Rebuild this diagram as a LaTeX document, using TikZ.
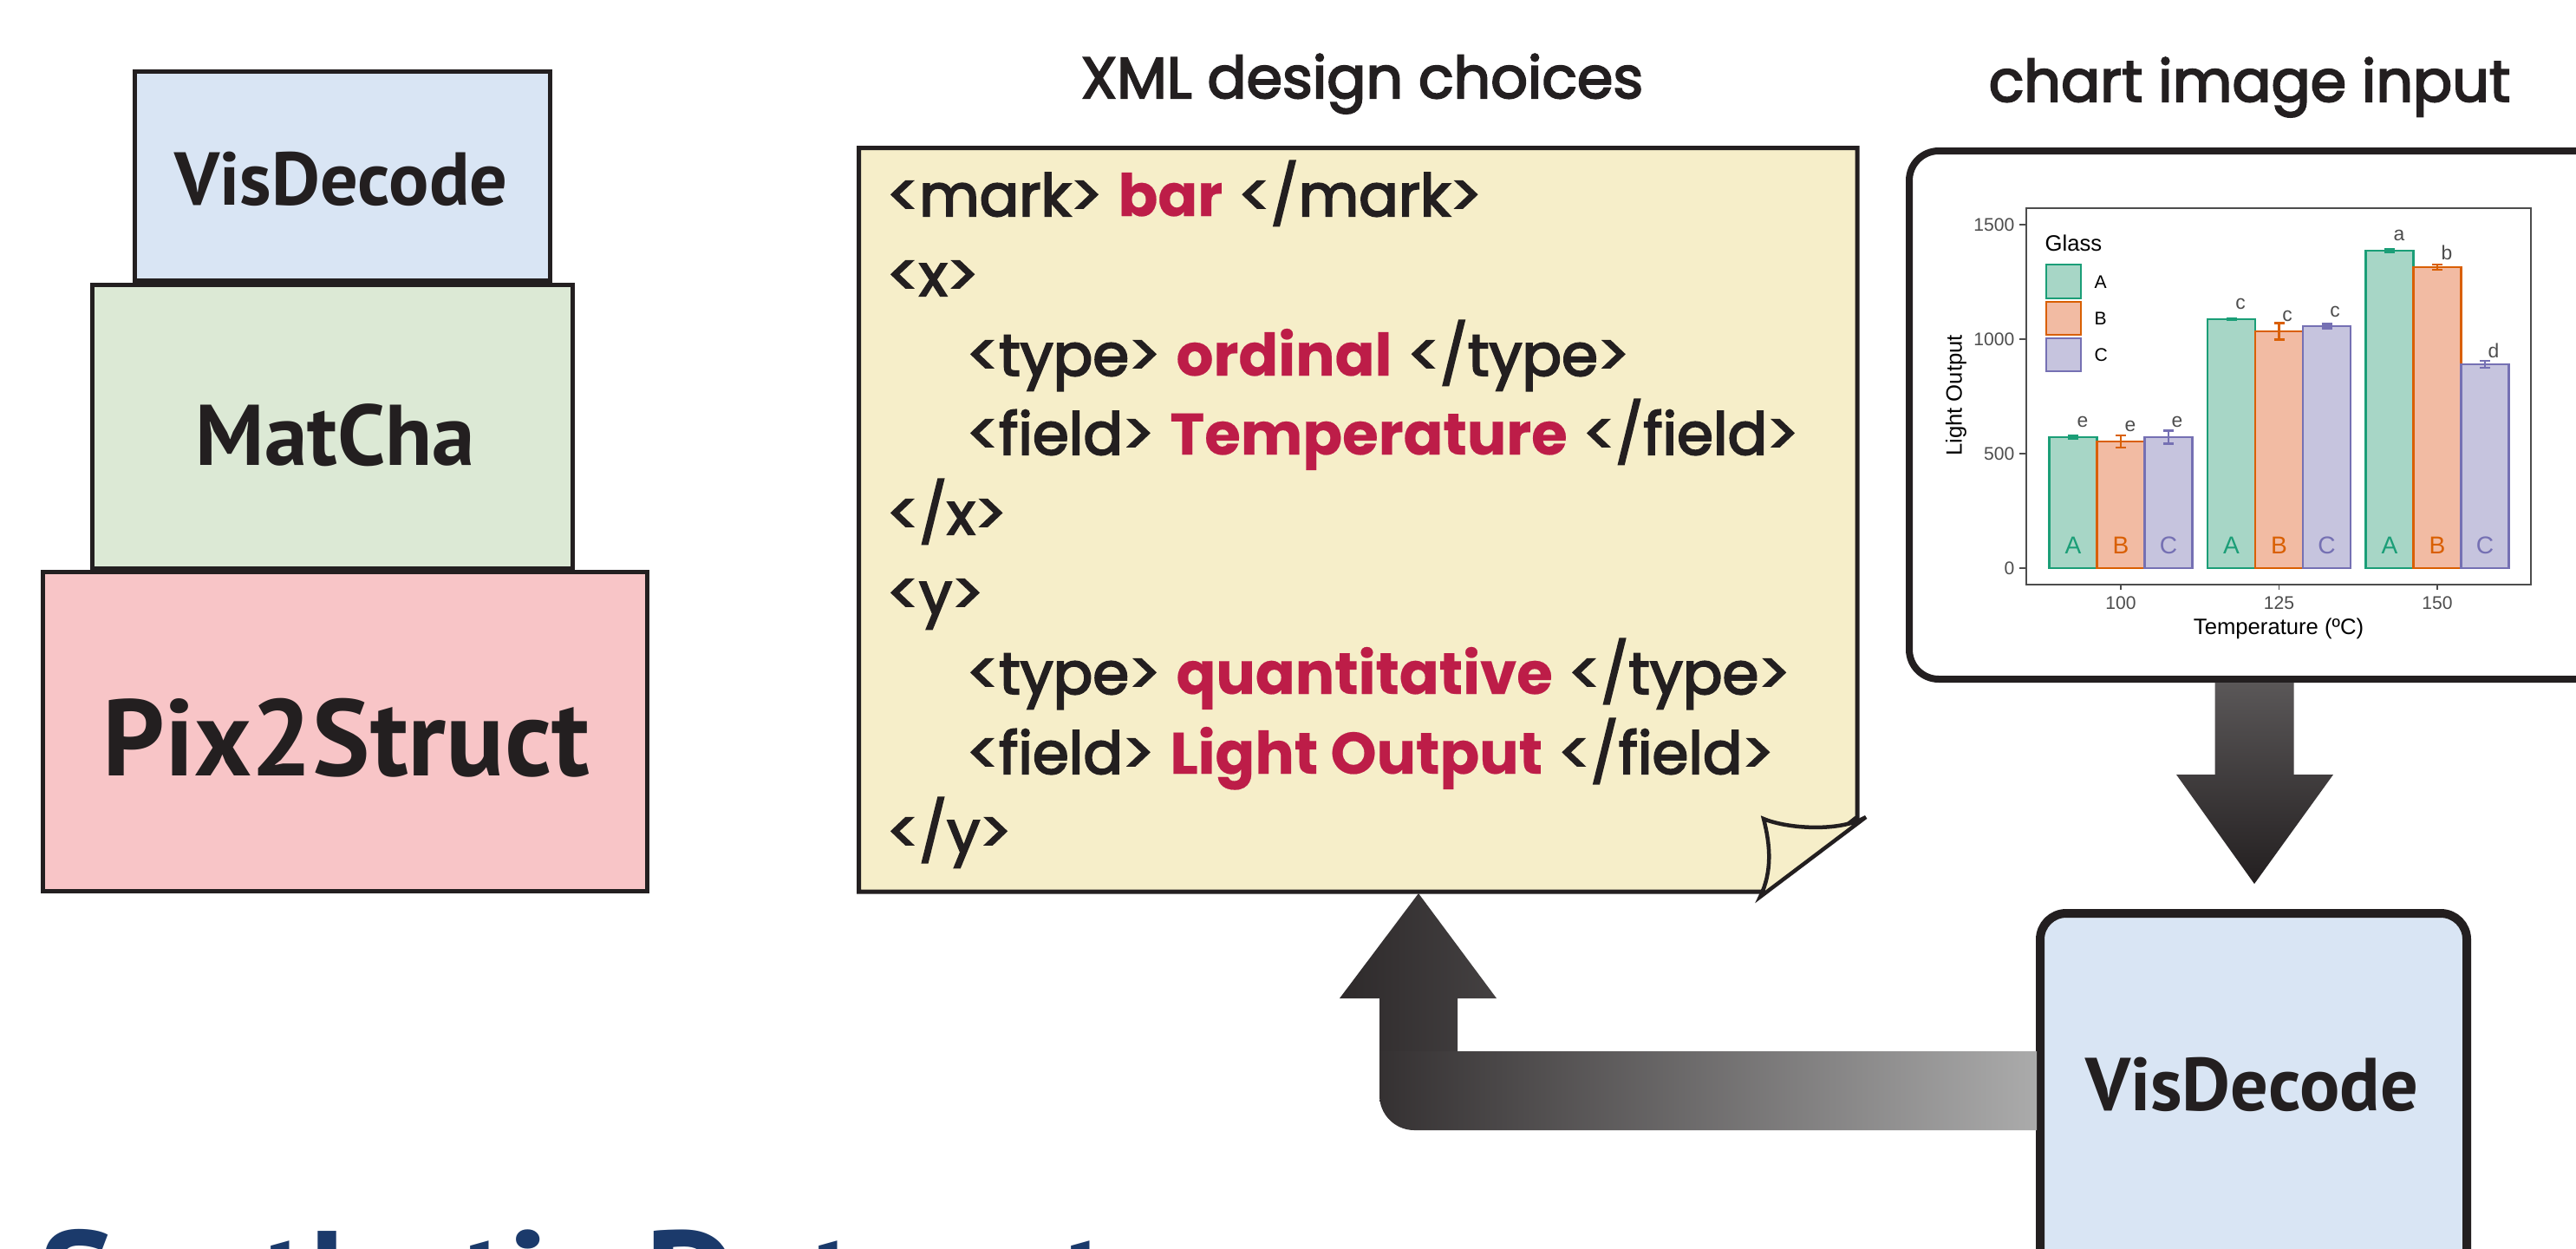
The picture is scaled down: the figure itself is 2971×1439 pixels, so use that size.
\documentclass[tikz,border=0pt]{standalone}
\usepackage{fontspec}
\usetikzlibrary{calc}
\setmainfont{Liberation Sans}
\newfontfamily\popfont{Poppins}[FakeBold=3, BoldFeatures={FakeBold=0.3}]
\newfontfamily\myriad{PT Sans}
\newfontfamily\arialf{Liberation Sans}
\definecolor{ink}{HTML}{231F20}
\definecolor{visblue}{HTML}{D9E5F4}
\definecolor{matgreen}{HTML}{DCE9D5}
\definecolor{pixpink}{HTML}{F8C5C7}
\definecolor{paper}{HTML}{F6EEC9}
\definecolor{xmlred}{HTML}{BD1D48}
\definecolor{navy}{HTML}{1B3A6B}
\definecolor{panelgray}{HTML}{4D4D4D}
\definecolor{Afill}{HTML}{A7D6C6}
\definecolor{Bfill}{HTML}{F2BBA3}
\definecolor{Cfill}{HTML}{C6C4DE}
\definecolor{Aline}{HTML}{1B9E77}
\definecolor{Bline}{HTML}{D95F02}
\definecolor{Cline}{HTML}{7570B3}
\newcommand\chartbar[4]{%
  \draw[fill=#4fill, draw=#4line, line width=0.25mm] (#1-27.5,655) rectangle (#1+27.5,#2);
  \draw[#4line, line width=0.25mm] (#1,#2-#3) -- (#1,#2+#3)
     (#1-6,#2-#3) -- (#1+6,#2-#3) (#1-6,#2+#3) -- (#1+6,#2+#3);
  \node[barlab, text=#4line] at (#1,629) {#4};
}
\begin{document}
\begin{tikzpicture}[x=0.1mm,y=-0.1mm,
  stackbox/.style={draw=ink, line width=0.5mm, inner sep=0},
  bigbold/.style={font=\myriad\bfseries, text=ink, anchor=base, inner sep=0},
  xmlline/.style={font=\popfont\fontsize{19.2pt}{21pt}\selectfont, text=ink, anchor=base west, inner sep=0},
  titletext/.style={font=\popfont\fontsize{19pt}{21pt}\selectfont, text=ink, anchor=base, inner sep=0},
  ticklab/.style={font=\arialf\fontsize{6pt}{7pt}\selectfont, text=panelgray, inner sep=0},
  axlab/.style={font=\arialf\fontsize{7.3pt}{8pt}\selectfont, text=black, inner sep=0},
  barlab/.style={font=\arialf\fontsize{8pt}{9pt}\selectfont, inner sep=0},
  sig/.style={font=\arialf\fontsize{6.5pt}{7pt}\selectfont, text=panelgray, inner sep=0},
]
\useasboundingbox (0,0) rectangle (2971,1439);
\clip (0,0) rectangle (2971,1439);

% ---------- left stack ----------
\node[stackbox, fill=pixpink, minimum width=69.7mm, minimum height=36.8mm] (pixL) at (398,843.5) {};
\node[stackbox, fill=matgreen, minimum width=55.4mm, minimum height=32.7mm] (matL) at (383.5,492) {};
\node[stackbox, fill=visblue, minimum width=47.9mm, minimum height=24.1mm] (visL) at (395,203) {};
\node[bigbold] (visLt) at (393.5,236) {\resizebox{38.4mm}{!}{VisDecode}};
\node[bigbold] (matLt) at (387,536) {\resizebox{32.2mm}{!}{MatCha}};
\node[bigbold] (pixLt) at (399.5,894) {\resizebox{56.1mm}{!}{Pix2Struct}};

% ---------- XML box ----------
\node[titletext] (xmltitle) at (1571,113) {XML design choices};
\path[draw=ink, fill=paper, line width=0.5mm, line join=miter]
  (990.5,170.5) -- (2142,170.5) -- (2142,942) -- (2032,1028) -- (990.5,1028) -- cycle;
\path[draw=ink, fill=paper, line width=0.45mm, line join=miter]
  (2152,942) -- (2030,1034)
  .. controls (2044,1005) and (2042,975) .. (2034,944)
  .. controls (2060,955) and (2120,960) .. (2152,942) -- cycle;
\node[xmlline] (l1) at (1022,249) {<mark> {\color{xmlred}\bfseries bar} </mark>};
\node[xmlline] (l2) at (1022,341) {<x>};
\node[xmlline] (l3) at (1114,433) {<type> {\color{xmlred}\bfseries ordinal} </type>};
\node[xmlline] (l4) at (1114,524) {<field> {\color{xmlred}\bfseries Temperature} </field>};
\node[xmlline] (l5) at (1022,616) {</x>};
\node[xmlline] (l6) at (1022,708) {<y>};
\node[xmlline] (l7) at (1114,800) {<type> {\color{xmlred}\bfseries quantitative} </type>};
\node[xmlline] (l8) at (1114,892) {<field> {\color{xmlred}\bfseries Light Output} </field>};
\node[xmlline] (l9) at (1022,983) {</y>};

% ---------- chart box ----------
\node[titletext] (charttitle) at (2594.5,117) {chart image input};
\node[draw=ink, fill=white, line width=0.8mm, rounded corners=3.4mm, inner sep=0,
      minimum width=83.8mm, minimum height=60.9mm] (chartbox) at (2621,478.5) {};

% plot panel
\draw[panelgray, line width=0.18mm] (2337,240) rectangle (2919,674);
\foreach \v/\yy in {1500/259,1000/391,500/523,0/655}{
  \draw[panelgray, line width=0.18mm] (2329,\yy) -- (2337,\yy);
  \node[ticklab, anchor=east] at (2324,\yy) {\v};
}
\foreach \v/\xx in {100/2446,125/2628.5,150/2811}{
  \draw[panelgray, line width=0.18mm] (\xx,674) -- (\xx,680);
  \node[ticklab] at (\xx,695.5) {\v};
}
\node[axlab, rotate=90] (ylab) at (2256,456) {Light Output};
\node[axlab] (xlab) at (2628,725) {Temperature (ºC)};

\chartbar{2391}{504}{1.5}{A}
\chartbar{2446}{509}{7}{B}
\chartbar{2501}{504}{7.5}{C}
\chartbar{2573.5}{368}{1}{A}
\chartbar{2628.5}{381.8}{9.5}{B}
\chartbar{2683.5}{375.9}{2.5}{C}
\chartbar{2756}{289.1}{1.5}{A}
\chartbar{2811}{308.1}{3}{B}
\chartbar{2866}{420}{4}{C}

\node[sig] at (2402,486) {e};
\node[sig] at (2457,491) {e};
\node[sig] at (2511,486) {e};
\node[sig] at (2584,350) {c};
\node[sig] at (2638,364) {c};
\node[sig] at (2693,359) {c};
\node[sig] at (2767,271) {a};
\node[sig] at (2822,291) {b};
\node[sig] at (2876,404) {d};

% legend
\node[axlab, anchor=west] (glass) at (2358,280) {Glass};
\draw[fill=Afill, draw=Aline, line width=0.2mm] (2360,305) rectangle (2400,344);
\draw[fill=Bfill, draw=Bline, line width=0.2mm] (2360,348) rectangle (2400,386);
\draw[fill=Cfill, draw=Cline, line width=0.2mm] (2360,390) rectangle (2400,428);
\node[ticklab, text=black, anchor=west] at (2415,325) {A};
\node[ticklab, text=black, anchor=west] at (2415,367) {B};
\node[ticklab, text=black, anchor=west] at (2415,409) {C};

% ---------- VisDecode (right) ----------
\node[draw=ink, fill=visblue, line width=1mm, rounded corners=3mm, inner sep=0,
      minimum width=49.2mm, minimum height=54.7mm] (visR) at (2599,1326.5) {};
\node[bigbold] (visRt) at (2597,1280.5) {\resizebox{38.4mm}{!}{VisDecode}};

% down arrow chart -> VisDecode
\coordinate (dTop) at (2600,787);
\coordinate (dTip) at (2600,1019);
\path[top color=ink!75!white, middle color=ink, bottom color=ink]
  ($(dTop)+(-45.5,0)$) -- ($(dTop)+(45.5,0)$) -- (2645.5,893) -- (2691,893) -- (dTip)
  -- (2510,893) -- (2554.5,893) -- cycle;

% bent arrow VisDecode -> XML box
\coordinate (uTip) at (1636,1030);
\path[left color=ink!95!white, right color=ink!85!white]
  (1591,1214) -- (1591,1151) -- (1545,1151) -- (uTip) -- (1726,1151) -- (1681,1151) -- (1681,1214) -- cycle;
\path[left color=ink!92!white, right color=black!33!white]
  (1591,1212) -- (2349,1212) -- (2349,1303) -- (1631,1303)
  .. controls (1609,1303) and (1591,1285) .. (1591,1263) -- cycle;

% ---------- bottom title (cut off) ----------
\node[anchor=base west, font=\myriad\bfseries\fontsize{45.9pt}{50pt}\selectfont, text=navy, inner sep=0] (synth) at (45,1532)
  {\resizebox{123.5mm}{\height}{Synthetic Dataset}};
\end{tikzpicture}
\end{document}
